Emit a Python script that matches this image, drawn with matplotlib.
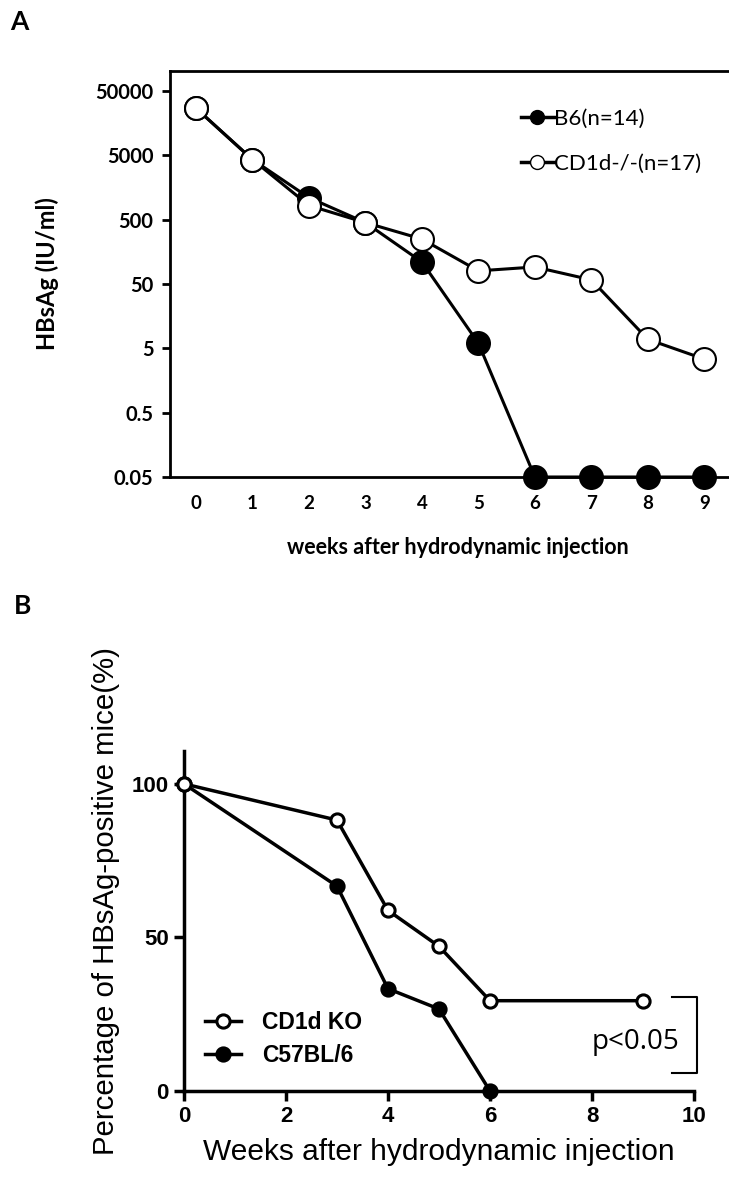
import matplotlib
matplotlib.use('Agg')
from matplotlib import pyplot as plt
from matplotlib.lines import Line2D
from matplotlib.ticker import FixedLocator, NullLocator

# panel A: HBsAg titre (IU/ml) per week
weeks_a = [0, 1, 2, 3, 4, 5, 6, 7, 8, 9]
b6_titre = [27000, 4300, 1100, 450, 110, 6, 0.05, 0.05, 0.05, 0.05]
cd1d_titre = [27000, 4300, 830, 450, 250, 80, 92, 58, 6.9, 3.4]
a_yticks = [0.05, 0.5, 5, 50, 500, 5000, 50000]
a_yticklabels = ['0.05', '0.5', '5', '50', '500', '5000', '50000']

# panel B: percentage of HBsAg-positive mice
weeks_ko = [0, 3, 4, 5, 6, 9]
pct_ko = [100, 88.2, 58.8, 47.1, 29.4, 29.4]
weeks_b6 = [0, 3, 4, 5, 6]
pct_b6 = [100, 66.7, 33.3, 26.7, 0]
b_xticks = [0, 2, 4, 6, 8, 10]
b_yticks = [0, 50, 100]

W, H = 729, 1178
fig = plt.figure(figsize=(W / 100, H / 100), dpi=100)

ttl_font = 'Lato'
arial = 'Liberation Sans'

# ---------------- panel A ----------------
axA = fig.add_axes([170 / W, 1 - 477 / H, 575 / W, 406 / H])
axA.set_yscale('log')
axA.plot(weeks_a, b6_titre, color='black', lw=2.2, marker='o', ms=16.5,
         mfc='black', mec='black', mew=1.5, clip_on=False, zorder=3)
axA.plot(weeks_a, cd1d_titre, color='black', lw=2.2, marker='o', ms=16.5,
         mfc='white', mec='black', mew=1.5, clip_on=False, zorder=4)
axA.set_xlim(-0.46, 9.72)
axA.set_ylim(0.05, 10 ** 5.01)
axA.yaxis.set_major_locator(FixedLocator(a_yticks))
axA.yaxis.set_minor_locator(NullLocator())
axA.set_yticklabels(a_yticklabels)
axA.set_xticks(weeks_a)
axA.tick_params(axis='y', direction='out', length=6, width=2, pad=6,
                labelsize=14.5)
axA.tick_params(axis='x', length=0, pad=13, labelsize=13.5)
for lab in axA.get_yticklabels() + axA.get_xticklabels():
    lab.set_family(ttl_font)
    lab.set_fontweight('bold')
for s in ['left', 'top', 'bottom']:
    axA.spines[s].set_linewidth(2)
axA.spines['right'].set_visible(False)
axA.set_xlabel('weeks after hydrodynamic injection', family=ttl_font,
               fontweight='bold', fontsize=15.5, labelpad=18)
axA.set_ylabel('HBsAg (IU/ml)', family=ttl_font, fontweight='bold',
               fontsize=17, labelpad=26)

handles_a = [
    Line2D([], [], color='black', lw=2.5, marker='o', ms=10, mfc='black',
           mec='black'),
    Line2D([], [], color='black', lw=2.5, marker='o', ms=10, mfc='white',
           mec='black'),
]
axA.legend(handles_a, ['B6(n=14)', 'CD1d-/-(n=17)'], loc='upper left',
           bbox_to_anchor=(0.575, 0.955), frameon=False, handlelength=1.5,
           handletextpad=0.0, labelspacing=1.1, markerfirst=True,
           prop={'family': ttl_font, 'size': 16})

fig.text(10 / W, 1 - 22 / H, 'A', family=ttl_font, fontweight='bold',
         fontsize=19, va='center', ha='left')
fig.text(14 / W, 1 - 606 / H, 'B', family=ttl_font, fontweight='bold',
         fontsize=19, va='center', ha='left')

# ---------------- panel B ----------------
axB = fig.add_axes([184 / W, 1 - 1091 / H, 510 / W, 340 / H])
axB.plot(weeks_ko, pct_ko, color='black', lw=2.5, marker='o', ms=9.5,
         mfc='white', mec='black', mew=2.2, clip_on=False, zorder=4,
         label='CD1d KO')
axB.plot(weeks_b6, pct_b6, color='black', lw=2.5, marker='o', ms=9.5,
         mfc='black', mec='black', mew=2.2, clip_on=False, zorder=3,
         label='C57BL/6')
axB.set_xlim(0, 10)
axB.set_ylim(0, 110.7)
axB.set_xticks(b_xticks)
axB.set_yticks(b_yticks)
axB.spines['top'].set_visible(False)
axB.spines['right'].set_visible(False)
for s in ['left', 'bottom']:
    axB.spines[s].set_linewidth(2.5)
axB.tick_params(direction='out', length=7, width=2.5, labelsize=16,
                pad=4)
for lab in axB.get_yticklabels() + axB.get_xticklabels():
    lab.set_family(arial)
    lab.set_fontweight('bold')
axB.set_xlabel('Weeks after hydrodynamic injection', family=arial,
               fontsize=21.5, labelpad=8)
axB.set_ylabel('Percentage of HBsAg-positive mice(%)', family=arial,
               fontsize=21.2, va='center')
axB.yaxis.set_label_coords(-0.153, 0.56)
axB.legend(loc='lower left', bbox_to_anchor=(0.0, 0.01), frameon=False,
           handlelength=1.6, handletextpad=0.9, labelspacing=0.45,
           prop={'family': arial, 'weight': 'bold', 'size': 16.5})

# significance bracket
br_x = [9.57, 10.06, 10.06, 9.57]
br_y = [30.6, 30.6, 5.9, 5.9]
axB.plot(br_x, br_y, color='black', lw=1.5, clip_on=False)
axB.text(8.86, 16.0, 'p<0.05', family='Open Sans', fontsize=20,
         ha='center', va='center')

fig.savefig('out.png', dpi=100)
